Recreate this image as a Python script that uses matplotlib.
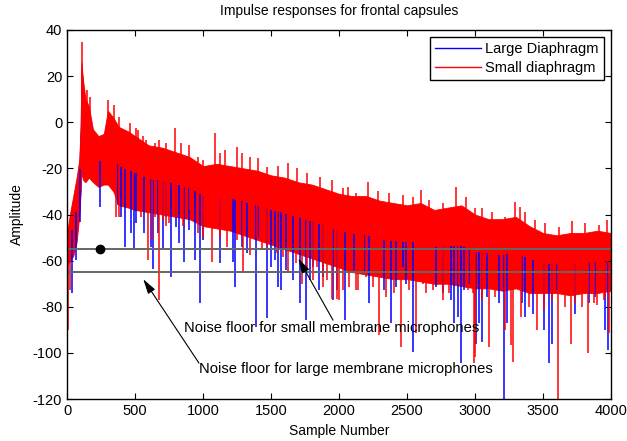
import numpy as np
import matplotlib
matplotlib.use("Agg")
import matplotlib.pyplot as plt
from matplotlib.lines import Line2D

plt.rcParams['font.family'] = ['Liberation Sans', 'DejaVu Sans']
plt.rcParams['axes.unicode_minus'] = False

# ---- data ----
env_x = [0, 20, 45, 70, 90, 100, 105, 118, 135, 160, 190, 230, 270, 300, 340, 380,
         450, 500, 600, 700, 800, 900, 1000, 1100, 1200, 1300, 1400, 1500, 1600,
         1700, 1800, 1900, 2000, 2100, 2200, 2300, 2400, 2500, 2600, 2700, 2800,
         2900, 3000, 3100, 3200, 3300, 3400, 3500, 3600, 3700, 3800, 3900, 4000]

red_top = [-48, -40, -32, -24, -16, 0, 26, 18, 10, 7, -3, -6, -5, 5, 2, -2,
           -4, -6, -10, -11, -13, -15, -19, -18, -19, -20, -21, -23, -24,
           -26, -27, -29, -31, -32, -32, -34, -35, -36, -35, -38, -37,
           -36, -40, -42, -42, -41, -45, -48, -49, -48, -48, -47, -48]
red_bot = [-62, -60, -58, -52, -40, -30, -22, -25, -26, -24, -26, -28, -27, -27, -30, -36,
           -37, -38, -39, -40, -41, -42, -45, -46, -47, -49, -51, -53, -55,
           -57, -59, -61, -63, -65, -66, -67, -68, -68, -69, -70, -70,
           -71, -72, -72, -73, -72, -74, -74, -74, -75, -74, -74, -73]

blue_top = [-50, -42, -34, -26, -18, -2, 24, 16, 8, 5, -5, -8, -7, 3, 0, -4,
            -6, -8, -12, -13, -15, -17, -21, -20, -21, -22, -23, -25, -26,
            -28, -29, -31, -33, -34, -34, -36, -37, -38, -37, -40, -39,
            -38, -42, -44, -44, -43, -47, -50, -51, -50, -50, -49, -50]
blue_bot = [-60, -58, -56, -50, -38, -28, -20, -23, -24, -22, -24, -26, -25, -25, -28, -34,
            -35, -36, -37, -38, -39, -40, -43, -44, -45, -47, -49, -51, -53,
            -55, -57, -59, -61, -63, -64, -65, -66, -66, -67, -68, -68,
            -69, -70, -70, -71, -70, -72, -72, -72, -73, -72, -72, -71]

blue_spike_x = [37, 67, 96, 245, 373, 397, 429, 471, 495, 508, 562, 618, 635, 667,
                704, 728, 765, 802, 826, 863, 895, 937, 978, 1003, 1125, 1223, 1235,
                1284, 1321, 1390, 1407, 1468, 1498, 1529, 1554, 1571, 1610, 1664,
                1713, 1757, 1787, 1811, 1855, 1885, 1958, 1983, 2047, 2113, 2194,
                2223, 2333, 2382, 2419, 2468, 2493, 2547, 2713, 2762, 2824, 2848,
                2873, 2897, 2922, 2958, 3007, 3032, 3052, 3088, 3179, 3211, 3235,
                3346, 3370, 3424, 3505, 3547, 3566, 3603, 3738, 3836, 3885, 3958, 3978]
blue_spike_y = [-74.2, -59.7, -43.1, -36.6, -35.9, -41, -54, -48.2, -54.7, -43.8, -48.2,
                -54, -63.4, -48.2, -55.4, -41, -67, -45.3, -52.5, -60.5, -46.7, -59.7,
                -78.5, -51, -61, -60.5, -71.3, -54, -56.8, -88.6, -49.6, -85, -62.6,
                -59.7, -71.3, -72.7, -64.1, -68.4, -78.5, -85.8, -68.4, -62.6, -72.7,
                -67, -77.1, -72.7, -85.8, -64.1, -65.5, -78.5, -72.7, -87.2, -71.3,
                -62.6, -69.9, -99.5, -71.3, -74.2, -77.1, -87.2, -84.3, -104.5, -72.7,
                -69.9, -95.9, -87.2, -95.2, -75.6, -78.5, -120, -87.2, -78.5, -84.3,
                -82.9, -90.1, -104.5, -95.9, -72.7, -82.9, -78.5, -75.6, -90.1, -98.8]

red_spike_x = [5, 22, 360, 593, 679, 704, 753, 961, 1064, 1297, 1346, 1431, 1628,
               1684, 1726, 1811, 1880, 1946, 1983, 2002, 2137, 2292, 2346, 2456,
               2566, 2640, 2762, 2983, 2995, 2998, 3105, 3223, 3267, 3277, 3341,
               3456, 3505, 3610, 3704, 3787, 3831, 3897, 3946, 3983,
               385, 483, 544, 625, 643, 728, 802, 851, 905, 998,
               1027, 1125, 1174, 1248, 1395, 1468, 1542, 1591, 1762, 1836, 1909,
               2027, 2076, 2125, 2199, 2248, 2407, 2517, 2615, 2689, 2811, 2885, 2946,
               3052, 3150, 3395, 3566, 3664, 3738, 3873, 3958]
red_spike_y = [-90, -72.8, -41, -59.7, -77.1, -42.4, -43.8, -48.2, -60.5, -65.5, -57.6,
               -55.4, -65.5, -61.2, -69.9, -68.4, -71.3, -76.4, -76.4, -77.1, -72.7,
               -92.3, -75.6, -97.3, -91.5, -74.2, -77.1, -74.2, -104.5, -101.7, -97.3,
               -90.1, -96.6, -103.8, -84.3, -90.1, -81.4, -120, -95.9, -80, -100.2,
               -79.3, -77.1, -91.5,
               -41, -38, -41, -51, -41, -45, -41, -45, -38, -50,
               -45.3, -49.6, -54, -51, -49.6, -54, -56.8, -58.3, -64, -62.6, -68.4,
               -72.7, -71.3, -72.7, -67, -71.3, -74.2, -72.7, -69.9, -72.7, -74.2, -69.9, -72.7,
               -77.1, -75.6, -80, -77.1, -80, -78.5, -78.5, -75.6]

red_peak_x = [108, 145, 165, 300, 348, 385, 459, 508, 520, 557, 581, 643, 679, 728,
              790, 839, 900, 961, 1003, 1088, 1125, 1162, 1248, 1284, 1346, 1407,
              1468, 1554, 1628, 1689, 1762, 1860, 1946, 2027, 2064, 2125, 2211,
              2284, 2370, 2468, 2542, 2603, 2664, 2762, 2860, 2934, 3003, 3052,
              3125, 3223, 3297, 3333, 3370, 3444, 3517, 3615, 3713, 3811, 3909, 3971]
red_peak_y = [35, 14, 11, 9.6, 7.5, 2.4, -0.5, -2.6, -3.4, -6, -7.7, -9, -7.7, -9,
              -2.6, -9, -10, -15, -16.4, -4.8, -13.5, -12, -10.6, -13.5, -15, -15.6,
              -19.3, -19, -17.8, -20, -22, -23.6, -25, -28.7, -28, -30.8, -25.8,
              -30, -30.8, -31.5, -32.3, -29.4, -33.7, -35, -28, -32.3, -37.3, -37.3,
              -38.8, -41, -34.4, -36.6, -38.8, -42.4, -43.8, -45.3, -43, -43.8, -44.6, -42.4]

noise_small = -55
noise_large = -65
dot_x, dot_y = 243, -55

# ---- figure ----
fig = plt.figure(figsize=(6.27, 4.41), dpi=100)
ax = fig.add_axes([0.107, 0.095, 0.8675, 0.837])

def draw_series(color, top, bot, sx, sy, px=None, py=None):
    mid = (np.array(top) + np.array(bot)) / 2.0
    ax.fill_between(env_x, bot, top, color=color, linewidth=0.6, edgecolor=color)
    ax.vlines(sx, sy, np.interp(sx, env_x, mid), color=color, linewidth=1.1)
    if px is not None:
        ax.vlines(px, np.interp(px, env_x, mid), py, color=color, linewidth=1.1)

draw_series('#0000ff', blue_top, blue_bot, blue_spike_x, blue_spike_y)
draw_series('#ff0000', red_top, red_bot, red_spike_x, red_spike_y, red_peak_x, red_peak_y)

ax.axhline(noise_small, color='#666666', linewidth=1.4)
ax.axhline(noise_large, color='#666666', linewidth=1.4)
ax.plot([dot_x], [dot_y], 'o', color='black', markersize=6)

arrow = dict(arrowstyle='-|>,head_width=0.25,head_length=0.9', color='black',
             lw=0.8, shrinkA=0, shrinkB=0)
ax.annotate('', xy=(1700, -59), xytext=(1956, -85.8), arrowprops=arrow)
ax.annotate('', xy=(560, -68), xytext=(970, -104.4), arrowprops=arrow)
ax.text(860, -89.2, 'Noise floor for small membrane microphones', fontsize=10.6,
        ha='left', va='center')
ax.text(970, -107, 'Noise floor for large membrane microphones', fontsize=10.6,
        ha='left', va='center')

ax.set_xlim(0, 4000)
ax.set_ylim(-120, 40)
ax.set_xticks(np.arange(0, 4001, 500))
ax.set_yticks(np.arange(-120, 41, 20))
ax.tick_params(direction='in', top=True, right=True, length=4, labelsize=10.5)
for s in ax.spines.values():
    s.set_linewidth(1.0)

ax.set_title('Impulse responses for frontal capsules', fontsize=10, pad=10.5)
ax.set_xlabel('Sample Number', fontsize=10, labelpad=4)
ax.set_ylabel('Amplitude', fontsize=10, labelpad=6)

handles = [Line2D([], [], color='#0000ff', lw=1), Line2D([], [], color='#ff0000', lw=1)]
leg = ax.legend(handles, ['Large Diaphragm', 'Small diaphragm'], loc='upper right',
                fontsize=10.5, handlelength=3.15, borderaxespad=0.5, labelspacing=0.3,
                fancybox=False, framealpha=1, edgecolor='black', borderpad=0.35,
                handletextpad=0.3)
leg.get_frame().set_linewidth(1.0)

fig.savefig('out.png', dpi=100)
